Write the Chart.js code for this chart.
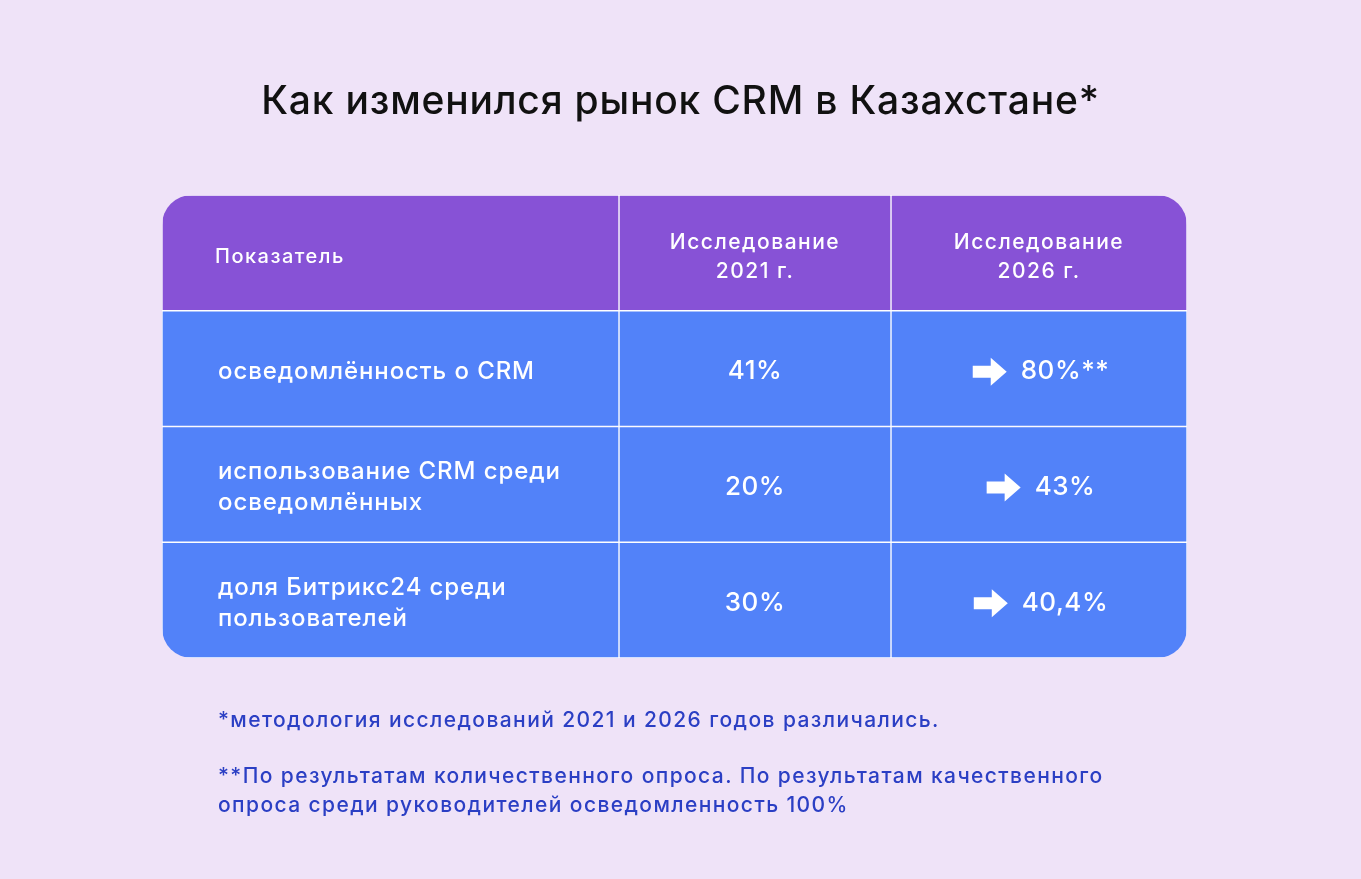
<!DOCTYPE html>
<html lang="ru">
<head>
<meta charset="utf-8">
<script src="https://cdn.jsdelivr.net/npm/chart.js@4/dist/chart.umd.min.js"></script>
<style>
  html, body { margin: 0; padding: 0; background: #efe3f8; font-family: Inter, "Noto Sans", sans-serif; }
  #wrap { position: relative; width: 1361px; height: 879px; }
  #title { position: absolute; left: 0; width: 1361px; top: 76px; text-align: center; font-size: 39px; letter-spacing: 0.8px; font-weight: 500; color: #111; }
  .note { position: absolute; left: 218px; font-size: 21px; letter-spacing: 1.4px; font-weight: 500; color: #2b3fc4; line-height: 29px; }
  canvas { position: absolute; left: 0; top: 0; }
</style>
</head>
<body>
<div id="wrap">
  <canvas id="table" width="1361" height="879"></canvas>
  <div id="title">Как изменился рынок CRM в Казахстане*</div>
  <div class="note" style="top:705px">*методология исследований 2021 и 2026 годов различались.</div>
  <div class="note" style="top:761px">**По результатам количественного опроса. По результатам качественного<br>опроса среди руководителей осведомленность 100%</div>
</div>
<script>
// данные таблицы
const headers = ["Показатель", "Исследование\n2021 г.", "Исследование\n2026 г."];
const rowLabels = ["осведомлённость о CRM", "использование CRM среди\nосведомлённых", "доля Битрикс24 среди\nпользователей"];
const values2021 = ["41%", "20%", "30%"];
const values2026 = ["80%**", "43%", "40,4%"];
// границы колонок (относительная ширина)
const colEdges = [0, 457, 729, 1025];

const rows = ["header"].concat(rowLabels);

const datasets = [0, 1, 2].map((c) => ({
  label: headers[c],
  data: rows.map(() => [colEdges[c], colEdges[c + 1]]),
  backgroundColor: (ctx) => (ctx.dataIndex === 0 ? "#8752d6" : "#5282f9"),
  borderColor: "#ffffff",
  borderWidth: 1,
  borderSkipped: false,
  grouped: false,
  barPercentage: 1,
  categoryPercentage: 1,
}));

// скругление углов всей таблицы
const clipPlugin = {
  id: "clip",
  beforeDatasetsDraw(chart) {
    const a = chart.chartArea;
    const ctx = chart.ctx;
    ctx.save();
    ctx.beginPath();
    ctx.roundRect(a.left, a.top, a.right - a.left, a.bottom - a.top, 30);
    ctx.clip();
  },
  afterDatasetsDraw(chart) {
    chart.ctx.restore();
  },
};

function drawLines(ctx, text, x, y, lh) {
  const lines = text.split("\n");
  const start = y - ((lines.length - 1) * lh) / 2;
  lines.forEach((l, i) => ctx.fillText(l, x, start + i * lh));
}

function drawArrow(ctx, x, y) {
  ctx.beginPath();
  ctx.moveTo(x, y - 6);
  ctx.lineTo(x + 18, y - 6);
  ctx.lineTo(x + 18, y - 14);
  ctx.lineTo(x + 34, y);
  ctx.lineTo(x + 18, y + 14);
  ctx.lineTo(x + 18, y + 6);
  ctx.lineTo(x, y + 6);
  ctx.closePath();
  ctx.fill();
}

const textPlugin = {
  id: "cellText",
  afterDatasetsDraw(chart) {
    const ctx = chart.ctx;
    const xs = chart.scales.x;
    const ys = chart.scales.y;
    const ex = colEdges.map((e) => xs.getPixelForValue(e));
    ctx.save();
    ctx.fillStyle = "#ffffff";
    ctx.textBaseline = "middle";
    // шапка
    let y = ys.getPixelForValue(0) + 4;
    ctx.letterSpacing = "1.5px";
    ctx.font = "500 20px Inter, sans-serif";
    ctx.textAlign = "left";
    ctx.fillText(headers[0], ex[0] + 53, y);
    ctx.font = "500 21px Inter, sans-serif";
    ctx.textAlign = "center";
    drawLines(ctx, headers[1], (ex[1] + ex[2]) / 2, y, 29);
    drawLines(ctx, headers[2], (ex[2] + ex[3]) / 2, y, 29);
    // строки
    rowLabels.forEach((label, i) => {
      y = ys.getPixelForValue(i + 1) + 3;
      ctx.letterSpacing = "0.9px";
      ctx.font = "500 24px Inter, sans-serif";
      ctx.textAlign = "left";
      drawLines(ctx, label, ex[0] + 56, y, 31);
      ctx.letterSpacing = "0.5px";
      ctx.font = "500 26px Inter, sans-serif";
      ctx.textAlign = "center";
      ctx.fillText(values2021[i], (ex[1] + ex[2]) / 2, y);
      ctx.textAlign = "left";
      const w = ctx.measureText(values2026[i]).width;
      const total = 34 + 14 + w;
      const x0 = (ex[2] + ex[3]) / 2 - total / 2 + 2;
      drawArrow(ctx, x0, y);
      ctx.fillText(values2026[i], x0 + 48, y);
    });
    ctx.restore();
  },
};

new Chart(document.getElementById("table").getContext("2d"), {
  type: "bar",
  data: { labels: rows, datasets },
  options: {
    indexAxis: "y",
    responsive: false,
    animation: false,
    layout: { padding: { left: 162, right: 174, top: 195, bottom: 221 } },
    plugins: { legend: { display: false }, tooltip: { enabled: false } },
    scales: {
      x: { type: "linear", min: colEdges[0], max: colEdges[colEdges.length - 1], display: false },
      y: { type: "category", display: false },
    },
  },
  plugins: [clipPlugin, textPlugin],
});
</script>
</body>
</html>
